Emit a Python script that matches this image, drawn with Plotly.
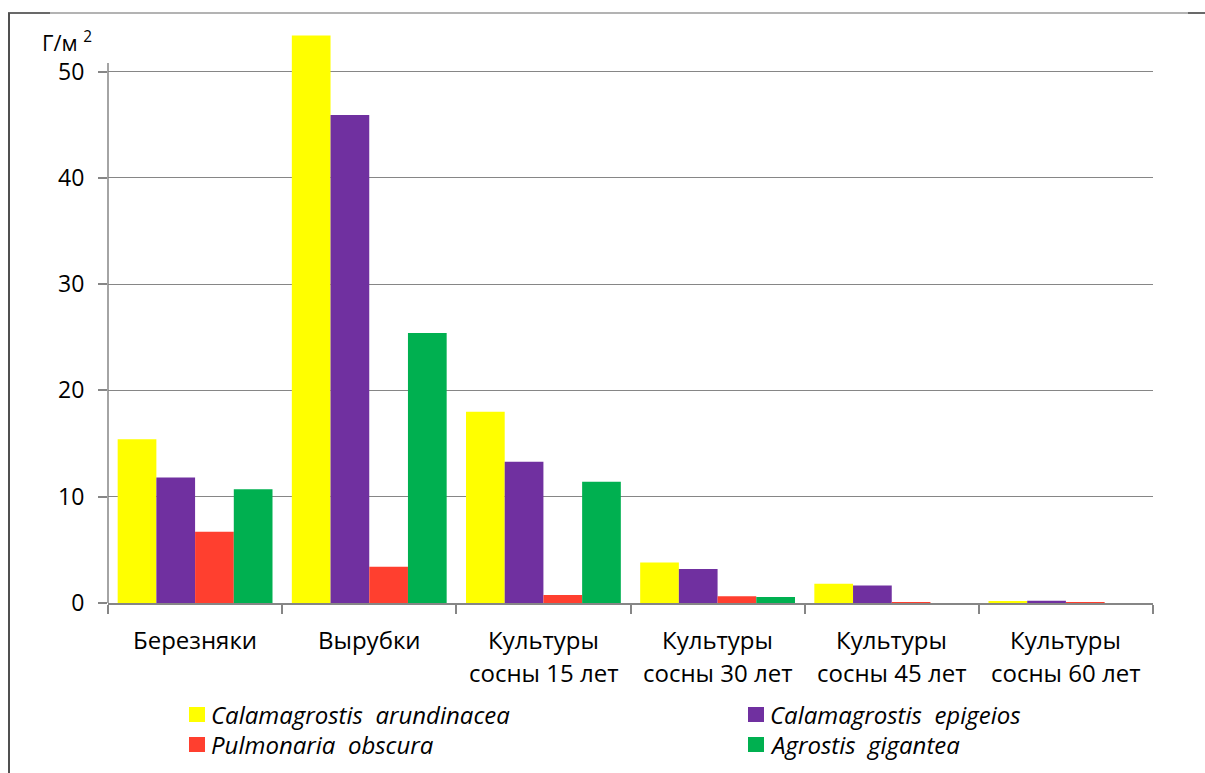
import plotly.graph_objects as go

categories = ["Березняки", "Вырубки", "Культуры сосны 15 лет", "Культуры сосны 30 лет",
              "Культуры сосны 45 лет", "Культуры сосны 60 лет"]
label_line1 = ["Березняки", "Вырубки", "Культуры", "Культуры", "Культуры", "Культуры"]
label_line2 = ["", "", "сосны 15 лет", "сосны 30 лет", "сосны 45 лет", "сосны 60 лет"]

series_names = ["Calamagrostis  arundinacea", "Calamagrostis  epigeios",
                "Pulmonaria  obscura", "Agrostis  gigantea"]
cal_arundinacea = [15.4, 53.4, 18.0, 3.8, 1.8, 0.1]
cal_epigeios = [11.8, 45.9, 13.3, 3.2, 1.65, 0.2]
pulm_obscura = [6.7, 3.4, 0.75, 0.63, 0.08, 0.05]
agr_gigantea = [10.7, 25.4, 11.4, 0.56, 0.0, 0.0]
series_values = [cal_arundinacea, cal_epigeios, pulm_obscura, agr_gigantea]
colors = ["#FFFF00", "#7030A0", "#FF3F2F", "#00B050"]

y_ticks = [0, 10, 20, 30, 40, 50]

W, H = 1205, 773
L, R, T, B = 108, 52, 29, 170
PW, PH = W - L - R, H - T - B
GRAY = "#868686"
FONT = "Open Sans"


def px(x):
    return (x - L) / PW


def py(y):
    return (H - B - y) / PH


fig = go.Figure()
for name, vals, col in zip(series_names, series_values, colors):
    fig.add_trace(go.Bar(x=categories, y=vals, name=name, marker_color=col,
                         marker_line_width=0, showlegend=False))

fig.update_layout(
    width=W, height=H,
    margin=dict(l=L, r=R, t=T, b=B, pad=0),
    paper_bgcolor="white", plot_bgcolor="white",
    barmode="group", bargap=0.111, bargroupgap=0,
    font=dict(family=FONT, size=23, color="black"),
    xaxis=dict(type="category", showticklabels=False, tickson="boundaries",
               ticks="outside", ticklen=9, tickcolor=GRAY, tickwidth=1.5,
               showline=True, linecolor=GRAY, linewidth=1.5, showgrid=False,
               zeroline=False),
    yaxis=dict(range=[0, 54], tickvals=y_ticks, ticks="outside", ticklen=9,
               tickcolor=GRAY, tickwidth=1.5, showline=False, showgrid=True,
               gridcolor=GRAY, gridwidth=1.3, zeroline=False,
               ticklabelstandoff=9,
               tickfont=dict(size=23, family=FONT)),
)

# y-axis line (stops a little above 50)
fig.add_shape(type="line", xref="paper", yref="y", x0=0, x1=0, y0=0, y1=50.8,
              line=dict(color=GRAY, width=1.5))

# category labels (two lines)
for c, l1, l2 in zip(categories, label_line1, label_line2):
    fig.add_annotation(x=c, xref="x", y=0, yref="paper", yanchor="top",
                       yshift=-18, text=l1, showarrow=False,
                       font=dict(size=24, family=FONT))
    if l2:
        fig.add_annotation(x=c, xref="x", y=0, yref="paper", yanchor="top",
                           yshift=-51, text=l2, showarrow=False,
                           font=dict(size=24, family=FONT))

# y title
fig.add_annotation(x=px(40), xref="paper", y=py(24), yref="paper",
                   xanchor="left", yanchor="top", text="Г/м <sup>2</sup>",
                   showarrow=False, font=dict(size=22, family=FONT))

# custom legend
leg_pos = [(189, 707), (748, 707), (189, 737), (748, 737)]
for (lx, ly), name, col in zip(leg_pos, series_names, colors):
    fig.add_shape(type="rect", xref="paper", yref="paper",
                  x0=px(lx), x1=px(lx + 16), y0=py(ly), y1=py(ly + 15),
                  fillcolor=col, line_width=0)
    fig.add_annotation(x=px(lx + 20), xref="paper", y=py(ly + 7.5), yref="paper",
                       xanchor="left", yanchor="middle",
                       text="<i>" + name.replace("  ", "&nbsp; ") + "</i>",
                       showarrow=False, font=dict(size=24, family=FONT))

# outer frame
fig.add_shape(type="line", xref="paper", yref="paper", x0=px(8), x1=px(1205),
              y0=py(13), y1=py(13), line=dict(color="#9a9a9a", width=1.3))
fig.add_shape(type="line", xref="paper", yref="paper", x0=px(8), x1=px(50),
              y0=py(13), y1=py(13), line=dict(color="#505050", width=1.5))
fig.add_shape(type="line", xref="paper", yref="paper", x0=px(1188), x1=px(1205),
              y0=py(13), y1=py(13), line=dict(color="#505050", width=1.5))
fig.add_shape(type="line", xref="paper", yref="paper", x0=px(9), x1=px(9),
              y0=py(13), y1=py(773), line=dict(color="#505050", width=2))

fig.write_html("out.html", config={"displayModeBar": False},
               post_script="document.body.style.margin='0';"
                           "document.body.style.overflow='hidden';")
